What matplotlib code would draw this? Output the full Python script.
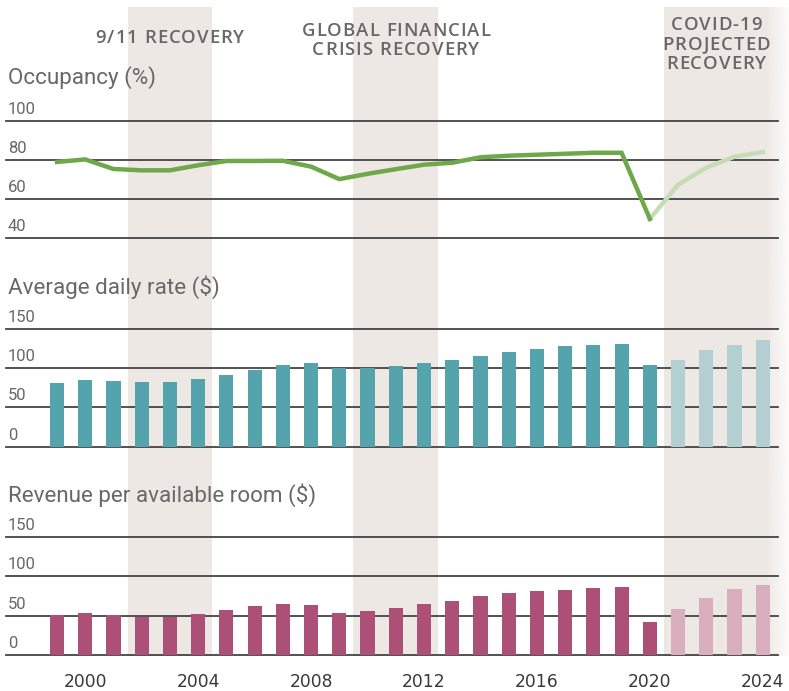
import numpy as np
import matplotlib
matplotlib.use("Agg")
import matplotlib.pyplot as plt
from matplotlib.colors import to_rgb
from matplotlib.font_manager import FontProperties
from matplotlib.textpath import TextToPath

# ---------------- data ----------------
years = list(range(1999, 2025))
occupancy = [79.0, 80.3, 75.4, 74.7, 74.7, 77.3, 79.5, 79.5, 79.6, 76.6, 70.2, 72.9, 75.3,
             77.6, 78.6, 81.4, 82.2, 82.7, 83.2, 83.7, 83.7, 49.8, 67.3, 76.1, 81.7, 84.1]
adr = [81, 85, 83.5, 82.3, 82.3, 86, 91, 97.5, 104, 106.5, 99.5, 99.5, 102.5,
       106.5, 110.5, 115.5, 120.5, 124.5, 128, 129.5, 130.5, 104, 110.5, 123, 129.5, 135.5]
revpar = [51, 53.5, 51, 48.3, 48.3, 52.2, 57.3, 62.3, 65, 63.6, 53.4, 56, 59.8,
          65, 68.7, 75, 78.8, 81.4, 82.7, 85.2, 86.5, 42, 58.5, 72.5, 84, 89]
first_projected_year = 2021
recovery_periods = [(2002, 2004, ["9/11 RECOVERY"]),
                    (2010, 2012, ["GLOBAL FINANCIAL", "CRISIS RECOVERY"]),
                    (2021, 2024, ["COVID-19", "PROJECTED", "RECOVERY"])]
occ_ticks = [40, 60, 80, 100]
money_ticks = [0, 50, 100, 150]
year_labels = [2000, 2004, 2008, 2012, 2016, 2020, 2024]
panel_titles = ["Occupancy (%)", "Average daily rate ($)", "Revenue per available room ($)"]

# ---------------- style ----------------
FONT = ["Roboto", "DejaVu Sans"]
plt.rcParams['font.family'] = FONT
TXT = "#6b6767"
SHADE = "#ede8e4"
GRID = "#444444"
GREEN, GREEN_L = "#6ea84a", "#c6dcb6"
TEAL, TEAL_L = "#55a3ad", "#b4cfd1"
PINK, PINK_L = "#ad5077", "#d9afc0"

W, H = 789, 691
fig = plt.figure(figsize=(W / 100, H / 100), dpi=100)

x0px, step = 57.0, 28.23  # pixel of first year, px per year


def xlim_for(left_px, right_px):
    return (years[0] - (x0px - left_px) / step, years[0] + (right_px - x0px) / step)


def fy(py):
    return 1 - py / H


HDR_FP = FontProperties(family="Open Sans", weight="semibold", size=13.3)
_t2p = TextToPath()
TRACK = 1.0  # px between letters


def spaced_text(ax, x, y, s, fp, color, track):
    # letter-spaced text centred on (x, y) data coords, baseline aligned
    scale = 100 / 72
    widths = []
    for ch in s:
        if ch == " ":
            w1, _, _ = _t2p.get_text_width_height_descent("a a", fp, ismath=False)
            w2, _, _ = _t2p.get_text_width_height_descent("aa", fp, ismath=False)
            w = w1 - w2
        else:
            w, _, _ = _t2p.get_text_width_height_descent(ch, fp, ismath=False)
        widths.append(w * scale)
    total = sum(widths) + track * (len(s) - 1)
    pos = -total / 2
    for ch, w in zip(s, widths):
        if ch != " ":
            ax.annotate(ch, xy=(x, y), xycoords='data', xytext=(pos, 0),
                        textcoords='offset pixels', ha='left', va='baseline',
                        fontproperties=fp, color=color, annotation_clip=False)
        pos += w + track


# background axes for the shaded bands
bg = fig.add_axes([0, 0, 1, 1], zorder=0)
bx0, bx1 = xlim_for(0, W)
bg.set_xlim(bx0, bx1)
bg.set_ylim(0, 1)
band_bottom, band_top = fy(656), fy(7)
fade_start = 2024.1
header_baselines = {1: [43], 2: [36, 55], 3: [30, 49.5, 69]}
for (s, e, lines) in recovery_periods:
    left = s - 0.5
    if e == years[-1]:
        bg.axvspan(left, fade_start, ymin=band_bottom, ymax=band_top, color=SHADE, lw=0, zorder=0)
        n = 200
        rgb = np.array(to_rgb(SHADE))
        t = np.linspace(0, 1, n)
        grad = np.ones((1, n, 4))
        grad[0, :, :3] = rgb
        grad[0, :, 3] = 1 - 0.88 * t ** 0.9
        bg.imshow(grad, extent=(fade_start, bx1, band_bottom, band_top), aspect='auto',
                  interpolation='bilinear', zorder=0)
        cx = (left + e + 0.5) / 2 - 0.15
    else:
        right = e + 0.5
        bg.axvspan(left, right, ymin=band_bottom, ymax=band_top, color=SHADE, lw=0, zorder=0)
        cx = (left + right) / 2
    for line, bpx in zip(lines, header_baselines[len(lines)]):
        spaced_text(bg, cx, fy(bpx), line, HDR_FP, TXT, TRACK)
bg.set_xlim(bx0, bx1)
bg.set_ylim(0, 1)
bg.axis('off')

axl, axr = 6, 778
xl = xlim_for(axl, axr)


def make_panel(top_px, bottom_px, ylo, yhi, ticks):
    ax = fig.add_axes([axl / W, fy(bottom_px), (axr - axl) / W, (bottom_px - top_px) / H], zorder=2)
    ax.set_xlim(*xl)
    ax.set_ylim(ylo, yhi)
    ax.patch.set_visible(False)
    for sp in ax.spines.values():
        sp.set_visible(False)
    ax.set_xticks([])
    ax.set_yticks([])
    for v in ticks:
        ax.axhline(v, color=GRID, lw=1.3, zorder=1, clip_on=False)
        ax.annotate(str(v), xy=(0, v), xycoords=('axes fraction', 'data'),
                    xytext=(2, 4), textcoords='offset pixels', ha='left', va='bottom',
                    fontsize=12, color=TXT, annotation_clip=False)
    return ax


# Occupancy
ax1 = make_panel(121, 238, 40, 100, occ_ticks)
yrs = np.array(years)
occ = np.array(occupancy)
split = years.index(first_projected_year)
ax1.plot(yrs[split - 1:], occ[split - 1:], color=GREEN_L, lw=3.2, zorder=3,
         solid_joinstyle='miter', clip_on=False)
ax1.plot(yrs[:split], occ[:split], color=GREEN, lw=3.2, zorder=4,
         solid_joinstyle='miter', clip_on=False)

# ADR
ax2 = make_panel(328.7, 446.7, 0, 150, money_ticks)
cols = [TEAL if y < first_projected_year else TEAL_L for y in years]
ax2.bar(years, adr, width=0.5, color=cols, zorder=2)

# RevPAR
ax3 = make_panel(537, 655, 0, 150, money_ticks)
cols = [PINK if y < first_projected_year else PINK_L for y in years]
ax3.bar(years, revpar, width=0.5, color=cols, zorder=2)

for y in year_labels:
    ax3.annotate(str(y), xy=(y, 0), xycoords=('data', 'data'), xytext=(0, -(682 - 655)),
                 textcoords='offset pixels', ha='center', va='center', fontsize=12.3,
                 color="#3a3838", family=["DejaVu Sans"], annotation_clip=False)

# panel titles
for title, ypx in zip(panel_titles, [78, 287, 495]):
    fig.text(8 / W, fy(ypx), title, ha='left', va='center', fontsize=16.1, color=TXT)

fig.savefig("out.png", dpi=100)
